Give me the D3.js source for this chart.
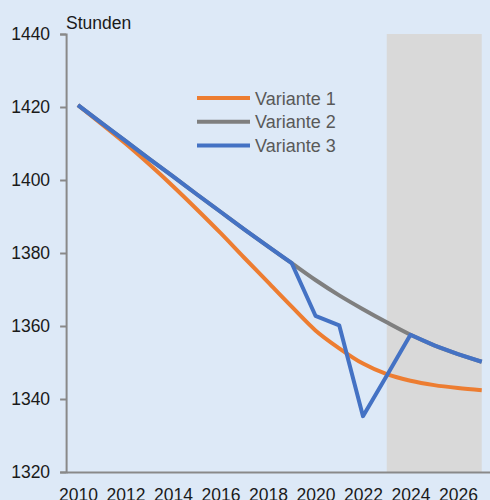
<!DOCTYPE html>
<html lang="de">
<head>
<meta charset="UTF-8">
<script src="https://d3js.org/d3.v7.min.js"></script>
<style>
    body { margin: 0; background: #dde9f7; }
    svg { display: block; font-family: "Liberation Sans", Arial, sans-serif; }
</style>
</head>
<body>
<script>
    var years = [2010, 2011, 2012, 2013, 2014, 2015, 2016, 2017, 2018,
                 2019, 2020, 2021, 2022, 2023, 2024, 2025, 2026, 2027];
    var variante1 = [1420.5, 1415.3, 1410.0, 1404.3, 1398.3, 1392.0, 1385.5, 1378.7, 1372.0,
                     1365.3, 1358.8, 1353.9, 1349.7, 1346.8, 1345.0, 1343.8, 1343.0, 1342.4];
    var variante2 = [1420.5, 1415.6, 1410.7, 1405.8, 1401.0, 1396.1, 1391.3, 1386.5, 1381.8,
                     1377.2, 1372.6, 1368.4, 1364.6, 1361.0, 1357.6, 1354.7, 1352.3, 1350.2];
    var variante3 = [1420.5, 1415.6, 1410.7, 1405.8, 1401.0, 1396.1, 1391.3, 1386.5, 1381.8,
                     1377.2, 1362.8, 1360.2, 1335.3, 1346.4, 1357.6, 1354.7, 1352.3, 1350.2];
    var seriesNames = ["Variante 1", "Variante 2", "Variante 3"];
    var seriesColors = ["#ed7d31", "#7f7f7f", "#4472c4"];
    var xTicks = [2010, 2012, 2014, 2016, 2018, 2020, 2022, 2024, 2026];
    var yTicks = [1320, 1340, 1360, 1380, 1400, 1420, 1440];
    var forecastBand = [2023, 2027];

    var width = 490, height = 500;

    var svg = d3.select("body").append("svg")
        .attr("width", width)
        .attr("height", height);

    svg.append("rect")
        .attr("width", width)
        .attr("height", height)
        .attr("fill", "#dde9f7");

    var x = d3.scaleLinear().domain([2009.5, 2027.5]).range([66.1, 493.6]);
    var y = d3.scaleLinear().domain([1320, 1440]).range([472, 34]);

    // shaded forecast period
    svg.append("rect")
        .attr("x", x(forecastBand[0]))
        .attr("y", y(1440))
        .attr("width", x(forecastBand[1]) - x(forecastBand[0]))
        .attr("height", y(1320) - y(1440))
        .attr("fill", "#d9d9d9");

    // y axis
    var yAxis = svg.append("g")
        .attr("transform", "translate(" + x(2009.5) + ",0)")
        .call(d3.axisLeft(y).tickValues(yTicks).tickSize(6).tickPadding(10).tickFormat(d3.format("d")));
    yAxis.select(".domain").attr("stroke", "#898989").attr("stroke-width", 2);
    yAxis.selectAll(".tick line").attr("stroke", "#898989").attr("stroke-width", 2);
    yAxis.selectAll("text")
        .attr("font-size", "17.5px")
        .attr("fill", "#1a1a1a")
        .style("font-family", "Liberation Sans, Arial, sans-serif");

    // x axis
    var xAxis = svg.append("g")
        .attr("transform", "translate(0," + y(1320) + ")")
        .call(d3.axisBottom(x).tickValues(xTicks).tickSize(0).tickPadding(17).tickFormat(d3.format("d")));
    xAxis.select(".domain").attr("stroke", "#898989").attr("stroke-width", 2);
    xAxis.selectAll("text")
        .attr("font-size", "17.5px")
        .attr("fill", "#1a1a1a")
        .style("font-family", "Liberation Sans, Arial, sans-serif");

    svg.append("text")
        .attr("x", 66)
        .attr("y", 29)
        .attr("font-size", "17.5px")
        .attr("fill", "#1a1a1a")
        .text("Stunden");

    var allSeries = [variante1, variante2, variante3];
    var curves = [d3.curveMonotoneX, d3.curveMonotoneX, d3.curveLinear];

    allSeries.forEach(function (vals, k) {
        var line = d3.line()
            .x(function (d, i) { return x(years[i]); })
            .y(function (d) { return y(d); })
            .curve(curves[k]);
        svg.append("path")
            .datum(vals)
            .attr("d", line)
            .attr("fill", "none")
            .attr("stroke", seriesColors[k])
            .attr("stroke-width", 4)
            .attr("stroke-linejoin", "round");
    });

    // legend
    var legend = svg.append("g").attr("transform", "translate(197,98)");
    seriesNames.forEach(function (name, k) {
        var g = legend.append("g").attr("transform", "translate(0," + (k * 23.8) + ")");
        g.append("line")
            .attr("x1", 0).attr("x2", 53)
            .attr("stroke", seriesColors[k])
            .attr("stroke-width", 4);
        g.append("text")
            .attr("x", 58)
            .attr("y", 6.5)
            .attr("font-size", "18px")
            .attr("fill", "#595959")
            .text(name);
    });
</script>
</body>
</html>
